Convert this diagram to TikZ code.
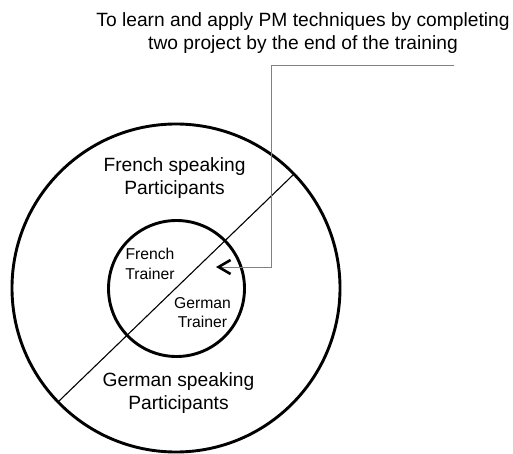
\documentclass[tikz,border=0pt]{standalone}
\usepackage{fontspec}
\setmainfont{Liberation Sans}
\usetikzlibrary{arrows.meta}
\begin{document}
\begin{tikzpicture}[x=1pt,y=-1pt,
  ring/.style={circle,draw=black,line width=2.9pt,inner sep=0pt,outer sep=0pt},
  bigtext/.style={align=center,font=\fontsize{19.2}{22.5}\selectfont,inner sep=0pt},
  smalltext/.style={align=center,font=\fontsize{15.7}{19.5}\selectfont,inner sep=0pt},
  callout/.style={draw=gray,line width=0.9pt}]
\useasboundingbox (0,0) rectangle (513,454);
\node[ring,minimum size=328pt] (outer) at (176,288) {};
\node[ring,minimum size=136pt] (inner) at (176.5,288.5) {};
\draw[line width=1.1pt] (outer.224.5) -- (outer.44.5);
\node[bigtext] (goal) at (303,33) {To learn and apply PM techniques by completing\\two project by the end of the training};
\node[bigtext] (fsp) at (174.5,178) {French speaking\\Participants};
\node[bigtext] (gsp) at (178.5,393) {German speaking\\Participants};
\node[smalltext] (ft) at (150,264) {French\\Trainer};
\node[smalltext] (gt) at (202.5,312.5) {German\\Trainer};
\coordinate (cstart) at (454,65);
\coordinate (ctip) at (216,267);
\draw[callout,-{Straight Barb[length=12pt,width=14pt,line width=2.6pt,color=black]}] (cstart) -- (271,65) -- (271,267) -- (ctip);
\end{tikzpicture}
\end{document}
